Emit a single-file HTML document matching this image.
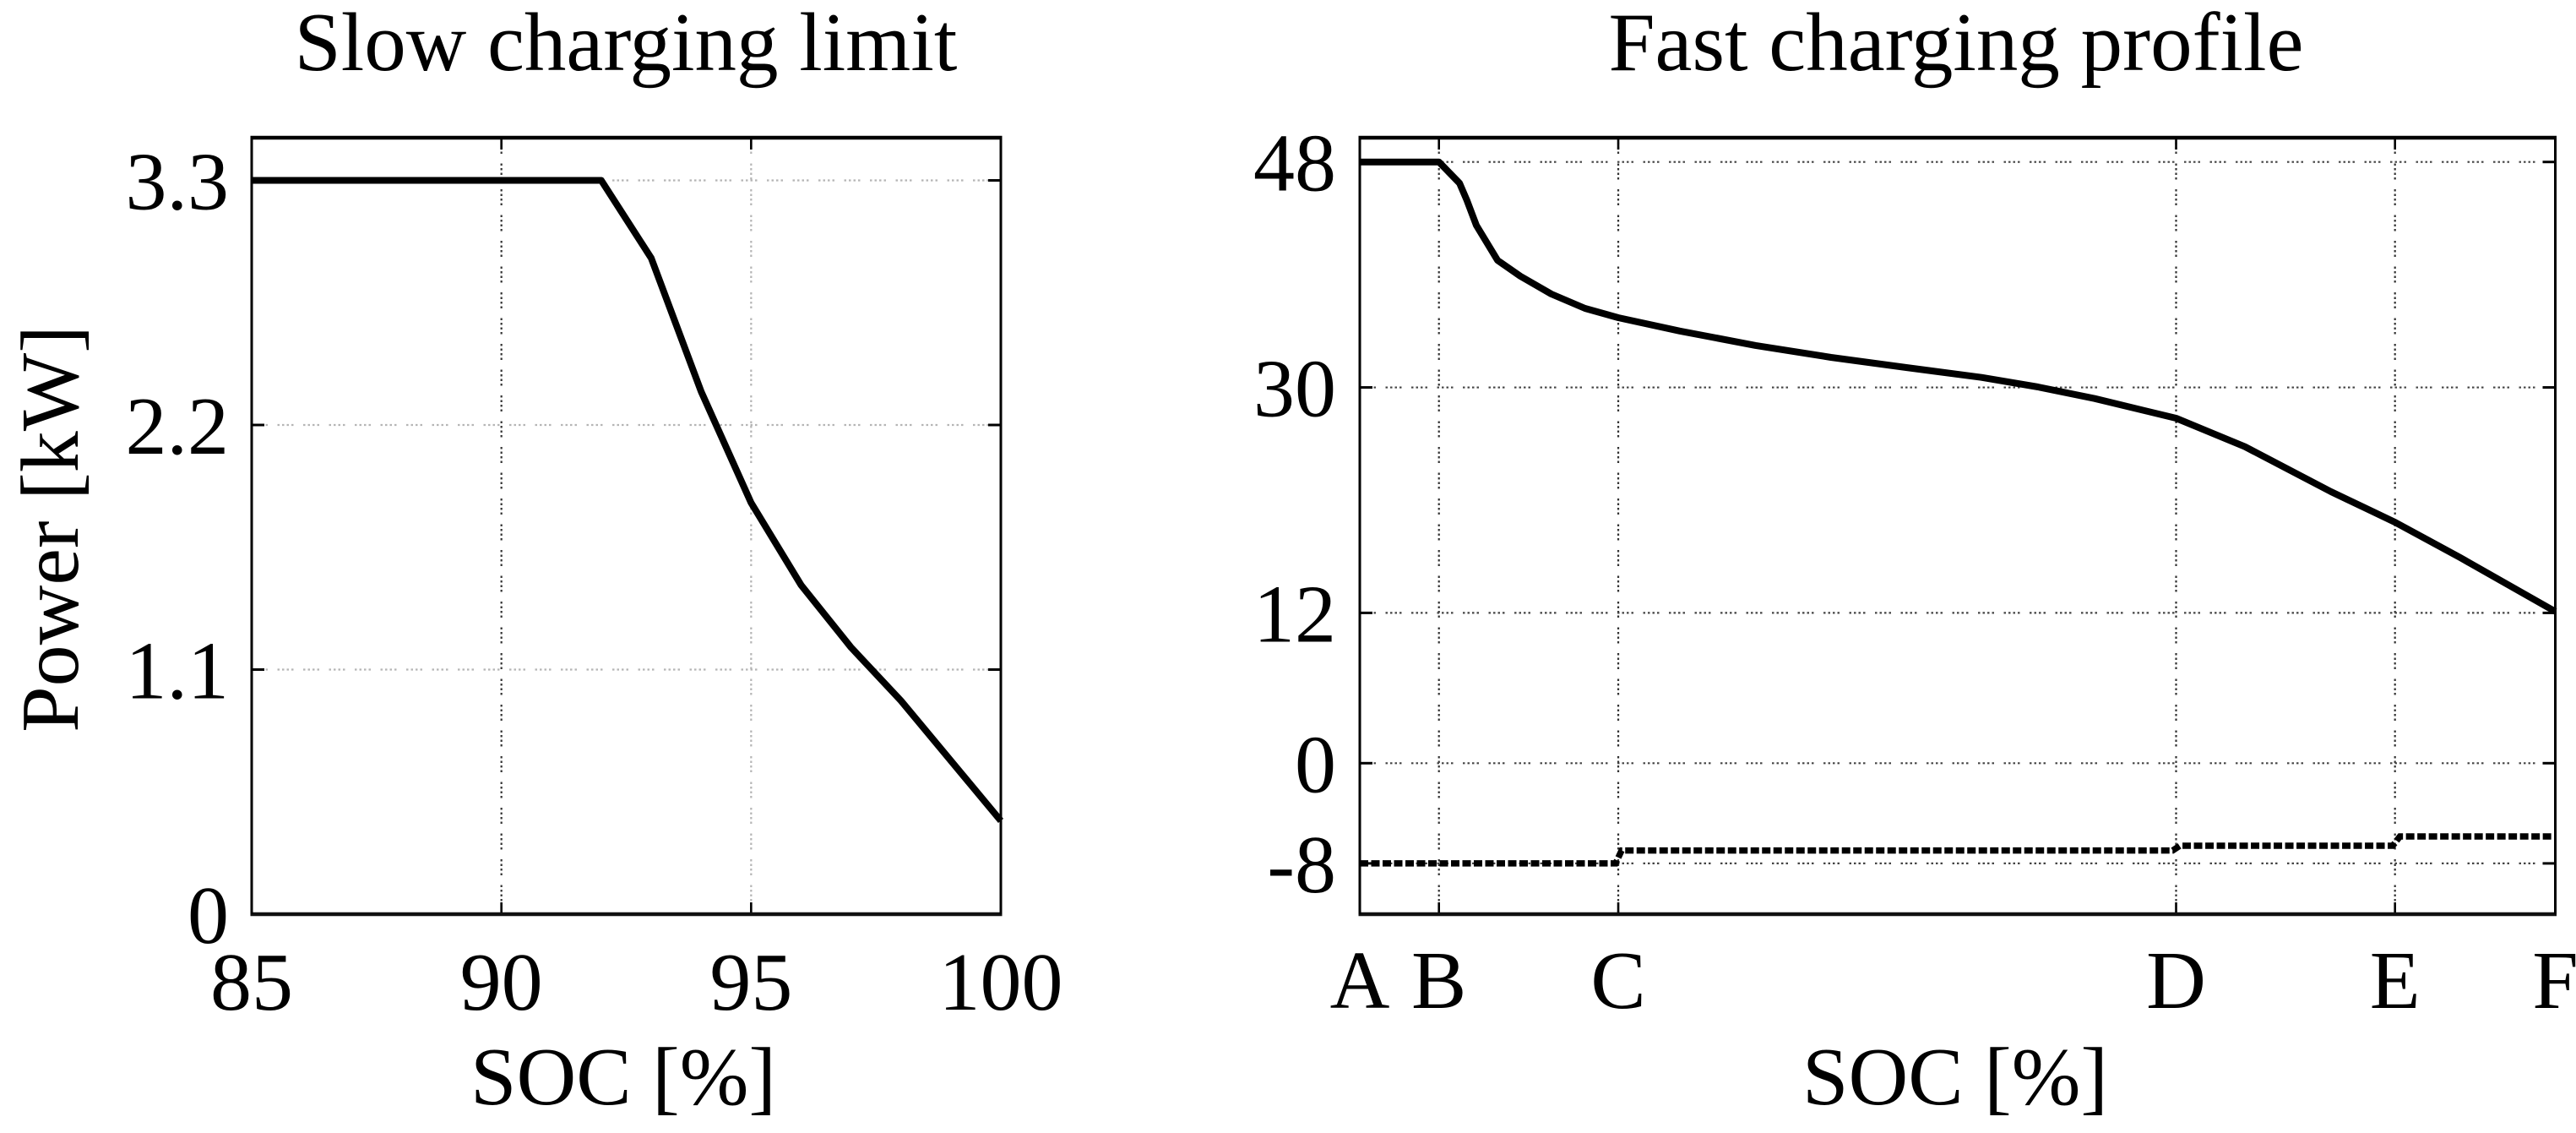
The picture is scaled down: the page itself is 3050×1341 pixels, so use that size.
<!DOCTYPE html>
<html lang="en">
<head>
<meta charset="utf-8">
<title>Slow charging limit and fast charging profile</title>
<style>
  html, body { margin: 0; padding: 0; background: #fff; }
  body { width: 3050px; height: 1341px; overflow: hidden; }
  svg { display: block; }
  text { font-family: "Liberation Serif", "Times New Roman", serif; fill: #000; font-size: 98px; }
  text.chart-title { font-size: 99px; }
</style>
</head>
<body>
<svg id="figure" xmlns="http://www.w3.org/2000/svg" width="3050" height="1341" viewBox="0 0 3050 1341">
  <rect x="0" y="0" width="3050" height="1341" fill="#fff"/>
  <text class="chart-title" x="741" y="83" text-anchor="middle">Slow charging limit</text>
  <text class="chart-title" x="2316" y="83" text-anchor="middle">Fast charging profile</text>
  <text x="738" y="1307" text-anchor="middle">SOC [%]</text>
  <text x="2315" y="1307" text-anchor="middle">SOC [%]</text>
  <text transform="translate(92 626) rotate(-90)" text-anchor="middle">Power [kW]</text>
  <g id="slow-chart"></g>
  <g id="fast-chart"></g>
</svg>
<script>
// Slow charging chart data
const slowXTicks = [85, 90, 95, 100];
const slowXTickLabels = ['85', '90', '95', '100'];
const slowYTicks = [0, 1.1, 2.2, 3.3];
const slowYTickLabels = ['0', '1.1', '2.2', '3.3'];
const slowSoc = [85, 92, 93, 94, 95, 96, 97, 98, 100];
const slowPower = [3.3, 3.3, 2.95, 2.35, 1.85, 1.48, 1.2, 0.96, 0.42];

// Fast charging chart data
const fastXTicks = [0, 6.62, 21.62, 68.28, 86.59, 100];
const fastXTickLabels = ['A', 'B', 'C', 'D', 'E', 'F'];
const fastYTicks = [-8, 0, 12, 30, 48];
const fastYTickLabels = ['-8', '0', '12', '30', '48'];
const fastSoc = [0, 6.62, 8.34, 8.95, 9.75, 11.52, 13.42, 16.02, 18.84, 21.62, 26.77, 33.11, 39.42, 45.71, 52.0, 56.73, 61.46, 68.28, 74.04, 81.24, 86.59, 92.05, 100];
const fastPower = [48, 48, 46.31, 44.96, 42.94, 40.15, 38.89, 37.46, 36.31, 35.57, 34.5, 33.35, 32.4, 31.59, 30.8, 30.04, 29.11, 27.54, 25.27, 21.67, 19.24, 16.41, 12.11];
const lowerSoc = [0, 21.4, 21.9, 68.0, 68.6, 86.4, 87.0, 100];
const lowerPower = [-8, -8, -6.97, -6.97, -6.59, -6.59, -5.85, -5.85];

const NS = 'http://www.w3.org/2000/svg';

function shape(parent, tag, attrs) {
  const el = document.createElementNS(NS, tag);
  for (const k in attrs) el.setAttribute(k, attrs[k]);
  parent.appendChild(el);
  return el;
}

function linear(d0, d1, r0, r1) {
  return v => r0 + (v - d0) * (r1 - r0) / (d1 - d0);
}

const GRID_DASH = '2.5 3 2.5 3 2.5 3 2.5 11.5';

function drawAxes(root, prefix, box, xs, ys, xTicks, xLabels, yTicks, yLabels, opts) {
  xTicks.forEach((t, i) => {
    const x = xs(t);
    if (x > box.l + 2 && x < box.r - 2) {
      const g = shape(root, 'line', { x1: x, x2: x, y1: box.t, y2: box.b, stroke: opts.vGrid(i), 'stroke-width': 2.2, 'stroke-dasharray': GRID_DASH });
      
      
      const t1 = shape(root, 'line', { x1: x, x2: x, y1: box.b, y2: box.b - 14, stroke: '#000', 'stroke-width': 2.6 });
      
      
      const t2 = shape(root, 'line', { x1: x, x2: x, y1: box.t, y2: box.t + 14, stroke: '#000', 'stroke-width': 2.6 });
      
      
    }
    const label = shape(root, 'text', { x: x, y: opts.xLabelY, 'text-anchor': 'middle' });
    label.textContent = xLabels[i];
    
    
  });
  yTicks.forEach((t, i) => {
    const y = ys(t);
    if (y < box.b - 2) {
      const g = shape(root, 'line', { x1: box.l, x2: box.r, y1: y, y2: y, stroke: opts.hGrid, 'stroke-width': 2.2, 'stroke-dasharray': GRID_DASH });
      
      
      const t1 = shape(root, 'line', { x1: box.l, x2: box.l + 15, y1: y, y2: y, stroke: '#000', 'stroke-width': 3 });
      
      
      const t2 = shape(root, 'line', { x1: box.r, x2: box.r - 15, y1: y, y2: y, stroke: '#000', 'stroke-width': 3 });
      
      
    }
    const label = shape(root, 'text', { x: opts.yLabelX, y: y + 34, 'text-anchor': 'end' });
    label.textContent = yLabels[i];
    
    
  });
}

function drawFrame(root, prefix, box) {
  const top = shape(root, 'line', { x1: box.l - 1.5, x2: box.r + 1.5, y1: box.t, y2: box.t, stroke: '#000', 'stroke-width': 4.5 });
  
  
  const bottom = shape(root, 'line', { x1: box.l - 1.5, x2: box.r + 1.5, y1: box.b, y2: box.b, stroke: '#111', 'stroke-width': 4.5 });
  
  
  const left = shape(root, 'line', { x1: box.l, x2: box.l, y1: box.t, y2: box.b, stroke: '#000', 'stroke-width': 3 });
  
  
  const right = shape(root, 'line', { x1: box.r, x2: box.r, y1: box.t, y2: box.b, stroke: '#000', 'stroke-width': 3 });
  
  
}

function pathFrom(xArr, yArr, xs, ys) {
  return xArr.map((v, i) => (i ? 'L' : 'M') + xs(v).toFixed(1) + ' ' + ys(yArr[i]).toFixed(1)).join(' ');
}

// Slow charging chart
const slowRoot = document.getElementById('slow-chart');
const slowBox = { l: 298, r: 1185, t: 163, b: 1082 };
const slowX = linear(85, 100, slowBox.l, slowBox.r);
const slowY = linear(0, 3.3, 1082, 213.5);
drawAxes(slowRoot, 'slow', slowBox, slowX, slowY, slowXTicks, slowXTickLabels, slowYTicks, slowYTickLabels, {
  vGrid: i => (i === 1 ? '#333' : '#b5b5b5'),
  hGrid: '#b5b5b5',
  xLabelY: 1195,
  yLabelX: 271
});
const slowLine = shape(slowRoot, 'path', { d: pathFrom(slowSoc, slowPower, slowX, slowY), fill: 'none', stroke: '#000', 'stroke-width': 8, 'stroke-linejoin': 'round' });


drawFrame(slowRoot, 'slow', slowBox);

// Fast charging chart
const fastRoot = document.getElementById('fast-chart');
const fastBox = { l: 1610, r: 3025.5, t: 163, b: 1082 };
const fastX = linear(0, 100, fastBox.l, fastBox.r);
const fastY = linear(0, 48, 903.3, 191.7);
drawAxes(fastRoot, 'fast', fastBox, fastX, fastY, fastXTicks, fastXTickLabels, fastYTicks, fastYTickLabels, {
  vGrid: () => '#333',
  hGrid: '#444',
  xLabelY: 1193,
  yLabelX: 1582
});
const fastLine = shape(fastRoot, 'path', { d: pathFrom(fastSoc, fastPower, fastX, fastY), fill: 'none', stroke: '#000', 'stroke-width': 8, 'stroke-linejoin': 'round' });


const lowerLine = shape(fastRoot, 'path', { d: pathFrom(lowerSoc, lowerPower, fastX, fastY), fill: 'none', stroke: '#000', 'stroke-width': 7.5, 'stroke-dasharray': '10 3.5' });


drawFrame(fastRoot, 'fast', fastBox);
</script>
</body>
</html>
